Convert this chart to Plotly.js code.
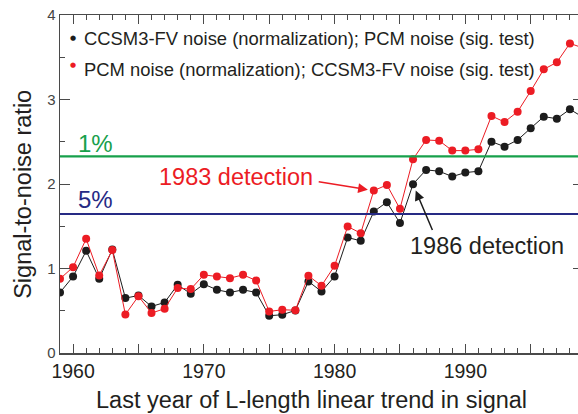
<!DOCTYPE html>
<html>
<head>
<meta charset="utf-8">
<script src="https://cdn.plot.ly/plotly-3.0.1.min.js"></script>
<style>html,body{margin:0;padding:0;overflow:hidden;background:#fff}</style>
</head>
<body>
<div id="chart" style="width:600px;height:414px"></div>
<script>
// ---- data ----
const years = [1959,1960,1961,1962,1963,1964,1965,1966,1967,1968,1969,1970,1971,1972,1973,1974,1975,1976,1977,1978,1979,1980,1981,1982,1983,1984,1985,1986,1987,1988,1989,1990,1991,1992,1993,1994,1995,1996,1997,1998,1999];
const ccsmNorm = [0.716,0.905,1.209,0.878,1.225,0.650,0.680,0.551,0.598,0.807,0.701,0.815,0.748,0.716,0.748,0.716,0.441,0.453,0.504,0.847,0.728,0.906,1.367,1.327,1.674,1.785,1.537,1.998,2.167,2.151,2.088,2.135,2.151,2.501,2.442,2.521,2.660,2.797,2.773,2.884,2.790];
const pcmNorm  = [0.878,1.016,1.351,0.918,1.218,0.456,0.672,0.473,0.524,0.768,0.756,0.925,0.905,0.886,0.925,0.858,0.492,0.512,0.506,0.914,0.796,1.032,1.497,1.418,1.922,1.989,1.706,2.293,2.521,2.513,2.395,2.395,2.411,2.805,2.734,2.856,3.100,3.357,3.440,3.664,3.610];
const seriesNames = ["CCSM3-FV noise (normalization); PCM noise (sig. test)", "PCM noise (normalization); CCSM3-FV noise (sig. test)"];
const thresholdLevels = [2.326, 1.645];
const thresholdLabels = ["1%", "5%"];
const xTickVals = [1960,1965,1970,1975,1980,1985,1990,1995];
const xTickText = ["1960","","1970","","1980","","1990",""];
const yTickVals = [0,1,2,3,4];
const detectYears = [1983, 1986];
const detectLabels = ["1983 detection", "1986 detection"];

// ---- styling ----
const FONT = "Liberation Sans, Arial, Helvetica, sans-serif";
const BLACK = "#1c1c1c", RED = "#ec1c24", GREEN = "#17a04b", BLUE = "#262a84", AXIS = "#4a4a4a", TXT = "#231f20";

const traces = [
  {x: years, y: ccsmNorm, mode: "lines+markers", name: seriesNames[0],
   line: {color: BLACK, width: 1}, marker: {color: BLACK, size: 8}, cliponaxis: true, showlegend: false},
  {x: years, y: pcmNorm, mode: "lines+markers", name: seriesNames[1],
   line: {color: RED, width: 1}, marker: {color: RED, size: 8}, cliponaxis: true, showlegend: false}
];

const idx83 = years.indexOf(detectYears[0]);
const idx86 = years.indexOf(detectYears[1]);

const annotations = [
  // legend
  {xref: "x", yref: "y", x: 1960.02, y: 3.73, text: "●", showarrow: false, font: {family: "DejaVu Sans", size: 7, color: BLACK}},
  {xref: "x", yref: "y", x: 1960.66, y: 3.727, xanchor: "left", yanchor: "middle", text: seriesNames[0], showarrow: false, font: {family: FONT, size: 18.4, color: TXT}},
  {xref: "x", yref: "y", x: 1960.02, y: 3.41, text: "●", showarrow: false, font: {family: "DejaVu Sans", size: 7, color: RED}},
  {xref: "x", yref: "y", x: 1960.66, y: 3.36, xanchor: "left", yanchor: "middle", text: seriesNames[1], showarrow: false, font: {family: FONT, size: 18.4, color: TXT}},
  // thresholds
  {xref: "x", yref: "y", x: 1961.74, y: 2.482, text: thresholdLabels[0], showarrow: false, font: {family: FONT, size: 24, color: GREEN}},
  {xref: "x", yref: "y", x: 1961.68, y: 1.812, text: thresholdLabels[1], showarrow: false, font: {family: FONT, size: 24, color: BLUE}},
  // detection labels
  {xref: "x", yref: "y", x: 1972.43, y: 2.084, text: detectLabels[0], showarrow: false, font: {family: FONT, size: 23.5, color: RED}},
  {xref: "x", yref: "y", x: 1991.67, y: 1.268, text: detectLabels[1], showarrow: false, font: {family: FONT, size: 23.5, color: TXT}},
  // arrows
  {xref: "x", yref: "y", x: detectYears[0], y: pcmNorm[idx83], text: "", showarrow: true, ax: -56.6, ay: -9,
   arrowhead: 2, arrowsize: 1.3, arrowwidth: 1.5, arrowcolor: RED, standoff: 6},
  {xref: "x", yref: "y", x: detectYears[1], y: ccsmNorm[idx86], text: "", showarrow: true, ax: 20, ay: 47.4,
   arrowhead: 2, arrowsize: 1.3, arrowwidth: 1.5, arrowcolor: BLACK, standoff: 7},
  // axis titles
  {xref: "paper", yref: "paper", x: (311.7-60)/522.8, y: -(400-353.3)/338.3, text: "Last year of L-length linear trend in signal",
   showarrow: false, xanchor: "center", yanchor: "middle", font: {family: FONT, size: 23.5, color: TXT}},
  {xref: "paper", yref: "paper", x: -(60-23)/522.8, y: (353.3-194)/338.3, text: "Signal-to-noise ratio", textangle: -90,
   showarrow: false, xanchor: "center", yanchor: "middle", font: {family: FONT, size: 23.5, color: TXT}}
];

const shapes = thresholdLevels.map((v, i) => ({
  type: "line", xref: "paper", yref: "y", x0: 0, x1: 1, y0: v, y1: v,
  line: {color: i === 0 ? GREEN : BLUE, width: 2.2}
}));

const layout = {
  width: 600, height: 414,
  margin: {l: 60, r: 17.2, t: 15, b: 60.7, pad: 0},
  paper_bgcolor: "#fff", plot_bgcolor: "#fff",
  showlegend: false,
  xaxis: {
    range: [1959, 1999], showgrid: false, zeroline: false,
    showline: true, linecolor: AXIS, linewidth: 1.5, mirror: "ticks",
    ticks: "inside", ticklen: 9, tickwidth: 1, tickcolor: AXIS,
    tickmode: "array", tickvals: xTickVals, ticktext: xTickText,
    tickfont: {family: FONT, size: 19.5, color: TXT},
    minor: {dtick: 1, tick0: 1959, ticks: "inside", ticklen: 5, tickwidth: 1, tickcolor: AXIS, showgrid: false}
  },
  yaxis: {
    range: [0, 4], showgrid: false, zeroline: false,
    showline: true, linecolor: AXIS, linewidth: 1.5, mirror: "ticks",
    ticks: "inside", ticklen: 10, tickwidth: 1, tickcolor: AXIS,
    tickmode: "array", tickvals: yTickVals,
    tickfont: {family: FONT, size: 15, color: "#444"},
    minor: {dtick: 0.5, tick0: 0, ticks: "inside", ticklen: 5, tickwidth: 1, tickcolor: AXIS, showgrid: false}
  },
  shapes: shapes,
  annotations: annotations
};

Plotly.newPlot("chart", traces, layout, {staticPlot: true, displayModeBar: false});
</script>
</body>
</html>
